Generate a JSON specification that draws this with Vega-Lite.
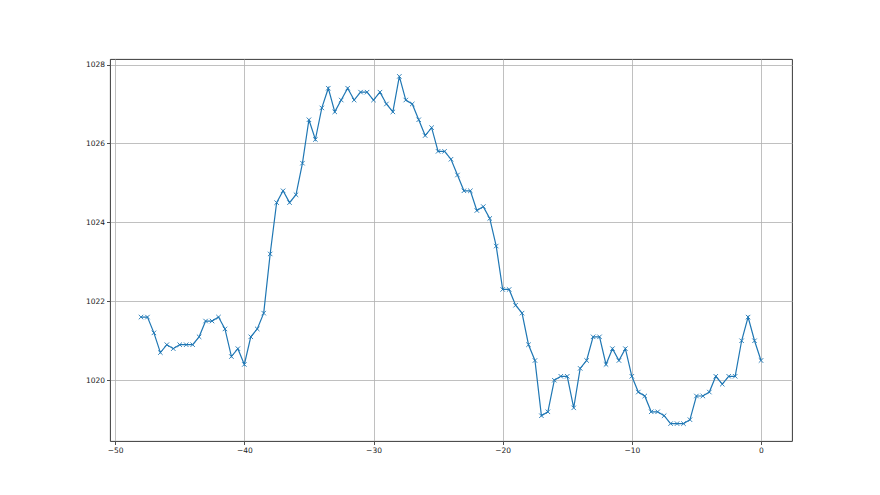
{
  "$schema": "https://vega.github.io/schema/vega-lite/v6.json",
  "autosize": {"type": "none"},
  "padding": {"left": 110, "top": 59, "right": 88, "bottom": 54},
  "width": 682,
  "height": 382,
  "background": "white",
  "config": {
    "view": {"stroke": "#222222", "strokeWidth": 0.9},
    "axis": {
      "labelFont": "DejaVu Sans",
      "labelFontSize": 7.5,
      "labelColor": "#222222",
      "tickColor": "#222222",
      "tickSize": 3.5,
      "tickWidth": 0.8,
      "labelPadding": 2,
      "domain": false,
      "grid": true,
      "gridColor": "#b0b0b0",
      "gridWidth": 0.8,
      "title": null
    }
  },
  "data": {
    "values": [
      {"t": -48, "p": 1021.6}, {"t": -47.5, "p": 1021.6}, {"t": -47, "p": 1021.2}, {"t": -46.5, "p": 1020.7},
      {"t": -46, "p": 1020.9}, {"t": -45.5, "p": 1020.8}, {"t": -45, "p": 1020.9}, {"t": -44.5, "p": 1020.9},
      {"t": -44, "p": 1020.9}, {"t": -43.5, "p": 1021.1}, {"t": -43, "p": 1021.5}, {"t": -42.5, "p": 1021.5},
      {"t": -42, "p": 1021.6}, {"t": -41.5, "p": 1021.3}, {"t": -41, "p": 1020.6}, {"t": -40.5, "p": 1020.8},
      {"t": -40, "p": 1020.4}, {"t": -39.5, "p": 1021.1}, {"t": -39, "p": 1021.3}, {"t": -38.5, "p": 1021.7},
      {"t": -38, "p": 1023.2}, {"t": -37.5, "p": 1024.5}, {"t": -37, "p": 1024.8}, {"t": -36.5, "p": 1024.5},
      {"t": -36, "p": 1024.7}, {"t": -35.5, "p": 1025.5}, {"t": -35, "p": 1026.6}, {"t": -34.5, "p": 1026.1},
      {"t": -34, "p": 1026.9}, {"t": -33.5, "p": 1027.4}, {"t": -33, "p": 1026.8}, {"t": -32.5, "p": 1027.1},
      {"t": -32, "p": 1027.4}, {"t": -31.5, "p": 1027.1}, {"t": -31, "p": 1027.3}, {"t": -30.5, "p": 1027.3},
      {"t": -30, "p": 1027.1}, {"t": -29.5, "p": 1027.3}, {"t": -29, "p": 1027.0}, {"t": -28.5, "p": 1026.8},
      {"t": -28, "p": 1027.7}, {"t": -27.5, "p": 1027.1}, {"t": -27, "p": 1027.0}, {"t": -26.5, "p": 1026.6},
      {"t": -26, "p": 1026.2}, {"t": -25.5, "p": 1026.4}, {"t": -25, "p": 1025.8}, {"t": -24.5, "p": 1025.8},
      {"t": -24, "p": 1025.6}, {"t": -23.5, "p": 1025.2}, {"t": -23, "p": 1024.8}, {"t": -22.5, "p": 1024.8},
      {"t": -22, "p": 1024.3}, {"t": -21.5, "p": 1024.4}, {"t": -21, "p": 1024.1}, {"t": -20.5, "p": 1023.4},
      {"t": -20, "p": 1022.3}, {"t": -19.5, "p": 1022.3}, {"t": -19, "p": 1021.9}, {"t": -18.5, "p": 1021.7},
      {"t": -18, "p": 1020.9}, {"t": -17.5, "p": 1020.5}, {"t": -17, "p": 1019.1}, {"t": -16.5, "p": 1019.2},
      {"t": -16, "p": 1020.0}, {"t": -15.5, "p": 1020.1}, {"t": -15, "p": 1020.1}, {"t": -14.5, "p": 1019.3},
      {"t": -14, "p": 1020.3}, {"t": -13.5, "p": 1020.5}, {"t": -13, "p": 1021.1}, {"t": -12.5, "p": 1021.1},
      {"t": -12, "p": 1020.4}, {"t": -11.5, "p": 1020.8}, {"t": -11, "p": 1020.5}, {"t": -10.5, "p": 1020.8},
      {"t": -10, "p": 1020.1}, {"t": -9.5, "p": 1019.7}, {"t": -9, "p": 1019.6}, {"t": -8.5, "p": 1019.2},
      {"t": -8, "p": 1019.2}, {"t": -7.5, "p": 1019.1}, {"t": -7, "p": 1018.9}, {"t": -6.5, "p": 1018.9},
      {"t": -6, "p": 1018.9}, {"t": -5.5, "p": 1019.0}, {"t": -5, "p": 1019.6}, {"t": -4.5, "p": 1019.6},
      {"t": -4, "p": 1019.7}, {"t": -3.5, "p": 1020.1}, {"t": -3, "p": 1019.9}, {"t": -2.5, "p": 1020.1},
      {"t": -2, "p": 1020.1}, {"t": -1.5, "p": 1021.0}, {"t": -1, "p": 1021.6}, {"t": -0.5, "p": 1021.0},
      {"t": 0, "p": 1020.5}
    ]
  },
  "encoding": {
    "x": {
      "field": "t", "type": "quantitative",
      "scale": {"domain": [-50.4, 2.4], "nice": false, "zero": false},
      "axis": {"values": [-50, -40, -30, -20, -10, 0], "labelExpr": "replace(datum.label, '-', '−')"}
    },
    "y": {
      "field": "p", "type": "quantitative",
      "scale": {"domain": [1018.46, 1028.14], "nice": false, "zero": false},
      "axis": {"values": [1020, 1022, 1024, 1026, 1028], "format": "d"}
    }
  },
  "layer": [
    {"mark": {"type": "line", "color": "#1f77b4", "strokeWidth": 1.2}},
    {"mark": {"type": "point", "shape": "M-1,-1L1,1M-1,1L1,-1", "filled": false, "stroke": "#1f77b4", "strokeWidth": 0.9, "size": 20, "opacity": 1}}
  ]
}
